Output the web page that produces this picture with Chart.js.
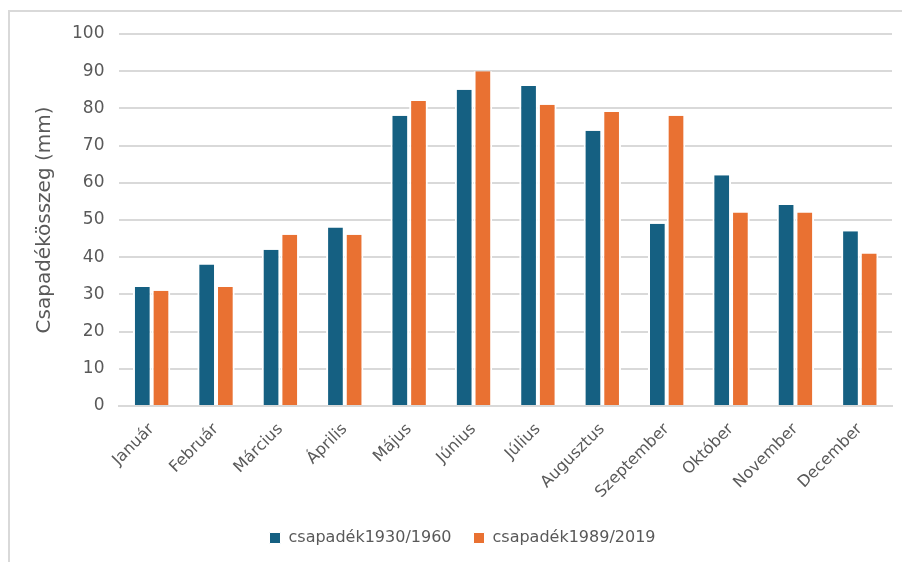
<!DOCTYPE html>
<html>
<head>
<meta charset="utf-8">
<script src="https://cdn.jsdelivr.net/npm/chart.js@4.4.1/dist/chart.umd.min.js"></script>
<style>
  html, body { margin: 0; padding: 0; background: #fff; }
  #wrap { position: relative; width: 902px; height: 562px; }
  #frame { position: absolute; left: 8px; top: 10px; width: 900px; height: 560px;
           border-left: 2px solid #d9d9d9; border-top: 2px solid #d9d9d9; pointer-events: none; }
</style>
</head>
<body>
<div id="wrap">
  <canvas id="csapadek" width="902" height="562"></canvas>
  <div id="frame"></div>
</div>
<script>
const months = ['Január', 'Február', 'Március', 'Április', 'Május', 'Június',
                'Július', 'Augusztus', 'Szeptember', 'Október', 'November', 'December'];
const regi = [32, 38, 42, 48, 78, 85, 86, 74, 49, 62, 54, 47];
const uj = [31, 32, 46, 46, 82, 90, 81, 79, 78, 52, 52, 41];
const seriesNames = ['csapadék1930/1960', 'csapadék1989/2019'];

const gray = '#595959';
const font = "'DejaVu Sans', sans-serif";

var ctx = document.getElementById('csapadek').getContext('2d');
new Chart(ctx, {
    type: 'bar',
    data: {
        labels: months,
        datasets: [{
            label: seriesNames[0],
            data: regi,
            backgroundColor: '#156082',
            borderColor: '#ffffff',
            borderWidth: { left: 2, right: 2, top: 0, bottom: 0 },
            borderSkipped: false
        }, {
            label: seriesNames[1],
            data: uj,
            backgroundColor: '#E97132',
            borderColor: '#ffffff',
            borderWidth: { left: 2, right: 2, top: 0, bottom: 0 },
            borderSkipped: false
        }]
    },
    options: {
        responsive: false,
        animation: false,
        layout: { padding: { top: 34, right: 10, left: 33, bottom: 6 } },
        datasets: { bar: { categoryPercentage: 0.58, barPercentage: 1.0 } },
        scales: {
            x: {
                grid: { display: false },
                border: { color: '#d9d9d9', width: 2 },
                ticks: { color: gray, font: { family: font, size: 16 }, maxRotation: 45, minRotation: 45, padding: 6 }
            },
            y: {
                min: 0,
                max: 100,
                grid: { color: '#d9d9d9', lineWidth: 2, drawTicks: false },
                border: { display: false },
                ticks: { stepSize: 10, color: gray, font: { family: font, size: 17 }, padding: 15 },
                title: { display: true, text: 'Csapadékösszeg (mm)', color: gray, font: { family: font, size: 20 }, padding: { top: 0, bottom: 0 } }
            }
        },
        plugins: {
            legend: {
                position: 'bottom',
                labels: { color: gray, font: { family: font, size: 16 }, boxWidth: 11, boxHeight: 11, padding: 22 }
            },
            tooltip: { enabled: false }
        }
    }
});
</script>
</body>
</html>
